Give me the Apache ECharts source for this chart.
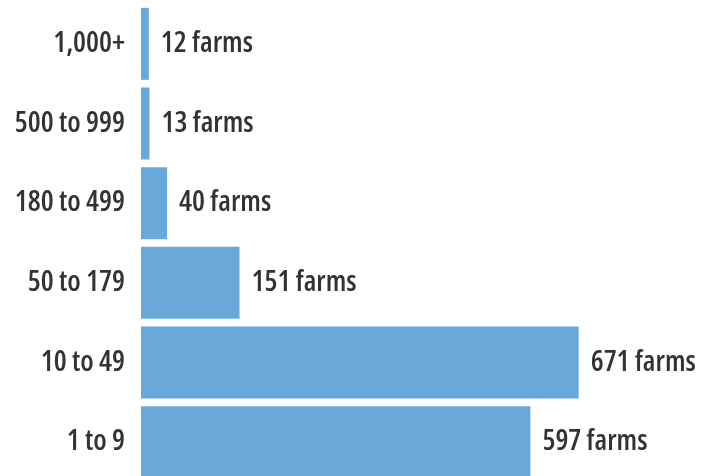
<!DOCTYPE html>
<html>
<head>
<meta charset="utf-8">
<script src="https://cdn.jsdelivr.net/npm/echarts@6/dist/echarts.min.js"></script>
<style>
html,body{margin:0;padding:0;background:#fff;}
#chart{width:715px;height:476px;}
</style>
</head>
<body>
<div id="chart"></div>
<script>
const categories = ['1 to 9', '10 to 49', '50 to 179', '180 to 499', '500 to 999', '1,000+'];
const farms = [597, 671, 151, 40, 13, 12];

const FONT = '"Open Sans", "DejaVu Sans Condensed", sans-serif';
const TEXT = {color: '#333333', fontFamily: FONT, fontStyle: 'condensed', fontWeight: 600, fontSize: 29};
const chart = echarts.init(document.getElementById('chart'), null, {renderer: 'canvas'});
chart.setOption({
  animation: false,
  grid: {left: 141, right: 0, top: 4, height: 478, containLabel: false, outerBoundsMode: 'none'},
  xAxis: {
    type: 'value', min: 0, max: 880, show: false
  },
  yAxis: {
    type: 'category', data: categories,
    axisLine: {show: false}, axisTick: {show: false}, splitLine: {show: false},
    axisLabel: Object.assign({margin: 16}, TEXT)
  },
  series: [{
    type: 'bar', data: farms, barWidth: 72,
    itemStyle: {color: '#69a8d9'},
    label: Object.assign({
      show: true, position: 'right', distance: 12,
      formatter: '{c} farms'
    }, TEXT)
  }]
});
</script>
</body>
</html>
